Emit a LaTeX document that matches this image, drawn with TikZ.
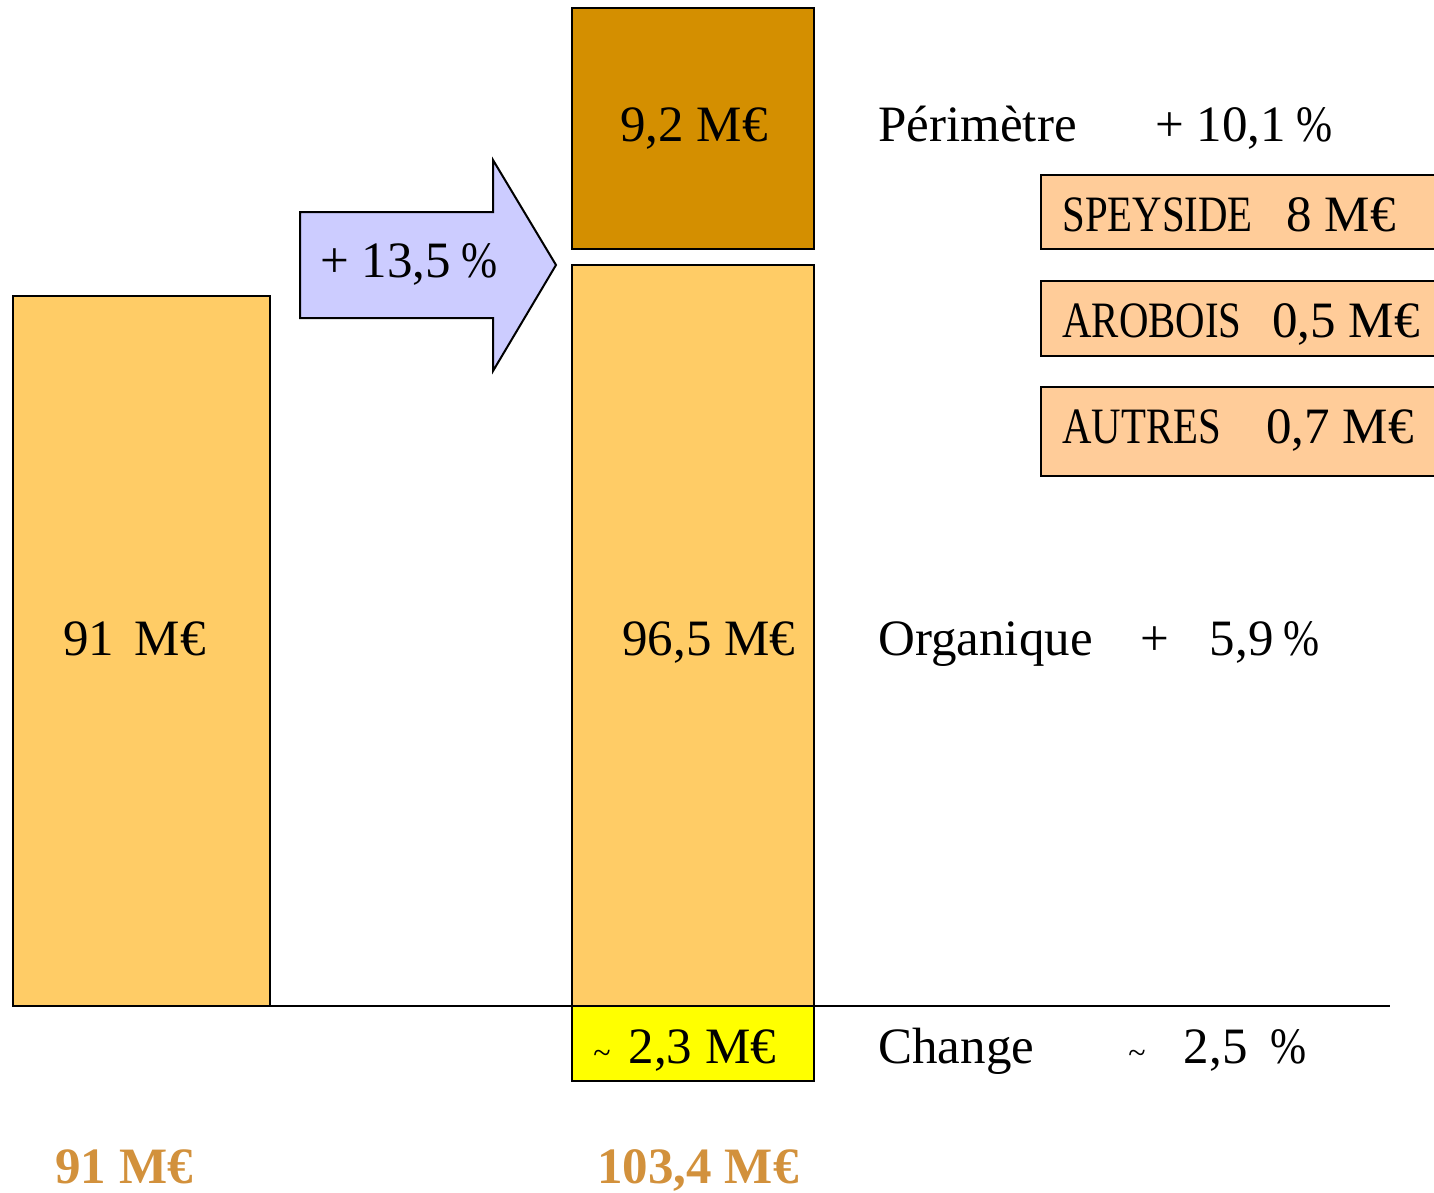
\documentclass[tikz,border=0pt]{standalone}
\usepackage{fontspec}
\setmainfont{Liberation Serif}
\usepackage{graphicx}
\definecolor{barfill}{RGB}{255,204,102}
\definecolor{topfill}{RGB}{212,143,0}
\definecolor{boxfill}{RGB}{255,204,153}
\definecolor{arrowfill}{RGB}{204,204,255}
\definecolor{totalcol}{RGB}{210,145,60}
\definecolor{chgfill}{RGB}{255,255,0}
\tikzset{
  bar/.style={draw=black, line width=1pt},
  txt/.style={anchor=base west, inner sep=0pt, font=\fontsize{25.5}{30}\selectfont},
  total/.style={txt, text=totalcol, font=\fontsize{25.5}{30}\selectfont\bfseries},
}
\newcommand{\pct}{\scalebox{0.85}[1]{\%}}
\begin{document}
\begin{tikzpicture}[x=0.5pt, y=-0.5pt]
\useasboundingbox (0,0) rectangle (1434,1193);
% bars
\path[bar, fill=barfill] (13,296) rectangle (270,1006);
\path[bar, fill=barfill] (572,265) rectangle (814,1006);
\path[bar, fill=topfill] (572,8) rectangle (814,249);
\path[bar, fill=chgfill] (572,1006) rectangle (814,1081);
\draw[line width=1pt] (13,1006) -- (1390,1006);
% arrow
\path[bar, fill=arrowfill] (300,212) -- (493,212) -- (493,160) -- (556,265) -- (493,371) -- (493,318) -- (300,318) -- cycle;
% right boxes
\path[bar, fill=boxfill] (1041,175) rectangle (1440,249);
\path[bar, fill=boxfill] (1041,281) rectangle (1440,356);
\path[bar, fill=boxfill] (1041,387) rectangle (1440,476);
% texts
\node[txt] (t92) at (620,141) {9,2 M€};
\node[txt] (per) at (878,141) {Périmètre};
\node[txt] (perpct) at (1155,141) {+ 10,1\hspace{0.2em}\pct};
\node[txt] (arr) at (320,277) {+ 13,5\hspace{0.2em}\pct};
\node[txt] (spey) at (1062,231) {\scalebox{0.8}[1]{SPEYSIDE}};
\node[txt] (speyv) at (1286,231) {8 M€};
\node[txt] (arob) at (1062,337) {\scalebox{0.8}[1]{AROBOIS}};
\node[txt] (arobv) at (1272,337) {0,5 M€};
\node[txt] (autr) at (1062,443) {\scalebox{0.8}[1]{AUTRES}};
\node[txt] (autrv) at (1266,443) {0,7 M€};
\node[txt] (t91) at (63,655) {91\hspace{0.4em}M€};
\node[txt] (t965) at (622,655) {96,5 M€};
\node[txt] (org) at (878,655) {Organique};
\node[txt] (orgpct) at (1140,655) {+\hspace{0.8em}5,9\hspace{0.2em}\pct};
\node[txt] (t23) at (593,1063) {{\fontsize{16}{20}\selectfont\textasciitilde}\hspace{0.35em}2,3 M€};
\node[txt] (chg) at (878,1063) {Change};
\node[txt] (chgpct) at (1128,1063) {{\fontsize{16}{20}\selectfont\textasciitilde}\hspace{0.75em}2,5\hspace{0.45em}\pct};
\node[total] (tot1) at (55,1183) {91 M€};
\node[total] (tot2) at (597,1183) {103,4 M€};
\end{tikzpicture}
\end{document}
